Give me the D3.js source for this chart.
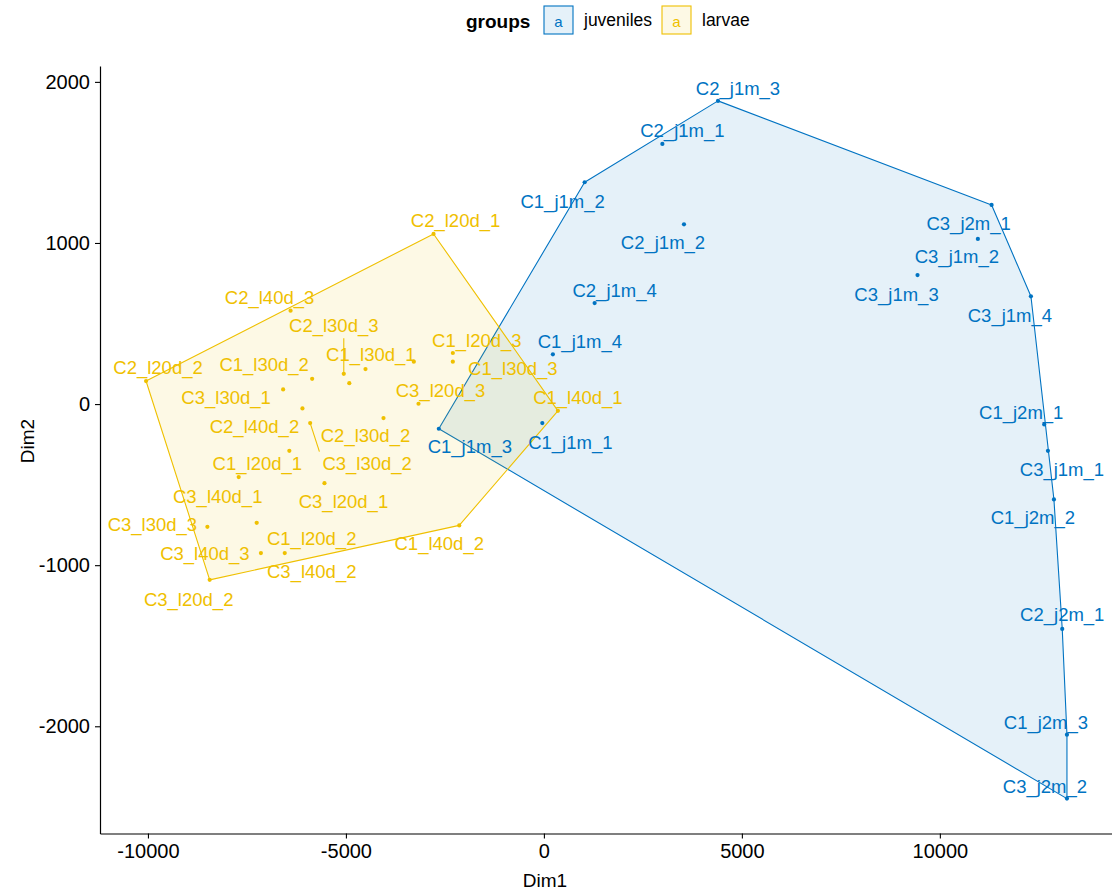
<!DOCTYPE html>
<html>
<head>
<meta charset="utf-8">
<script src="https://cdn.jsdelivr.net/npm/d3@7"></script>
<style>
  html, body { margin: 0; padding: 0; background: #ffffff; }
  svg { display: block; font-family: "Liberation Sans", Arial, sans-serif; }
</style>
</head>
<body>
<svg id="chart" width="1112" height="892"></svg>
<script>
// ---- data: MDS coordinates of samples ----
const groupNames = ["juveniles", "larvae"];
const groupColors = ["#0073C2", "#EFC000"];

const juvNames = ["C1_j1m_1", "C1_j1m_2", "C1_j1m_3", "C1_j1m_4", "C2_j1m_1", "C2_j1m_2",
  "C2_j1m_3", "C2_j1m_4", "C3_j1m_1", "C3_j1m_2", "C3_j1m_3", "C3_j1m_4",
  "C1_j2m_1", "C1_j2m_2", "C1_j2m_3", "C2_j2m_1", "C3_j2m_1", "C3_j2m_2"];
const juvDim1 = [-40, 1029, -2654, 227, 2992, 3538, 4397, 1281, 12730, 10960, 9436, 12300,
  12636, 12881, 13210, 13091, 11307, 13210];
const juvDim2 = [-118, 1377, -153, 309, 1615, 1116, 1882, 627, -290, 1025, 801, 669,
  -126, -592, -2052, -1396, 1236, -2449];

const larNames = ["C1_l20d_1", "C1_l20d_2", "C1_l20d_3", "C1_l30d_1", "C1_l30d_2", "C1_l30d_3",
  "C1_l40d_1", "C1_l40d_2", "C2_l20d_1", "C2_l20d_2", "C2_l30d_1", "C2_l30d_2", "C2_l30d_3",
  "C2_l40d_1", "C2_l40d_2", "C2_l40d_3", "C3_l20d_1", "C3_l20d_2", "C3_l20d_3", "C3_l30d_1",
  "C3_l30d_2", "C3_l30d_3", "C3_l40d_1", "C3_l40d_2", "C3_l40d_3"];
const larDim1 = [-6429, -7253, -2300, -3285, -5853, -2300, 354, -2138, -2787, -10048, -4506,
  -4051, -5054, -4915, -6098, -6398, -5542, -8441, -3167, -6586, -5903, -8499, -7708, -6545, -7147];
const larDim2 = [-290, -737, 317, 263, 157, 263, -42, -753, 1056, 143, 217, -87, 188, 130,
  -27, 580, -491, -1091, 2, 91, -118, -762, -453, -925, -925];

const xTicks = [-10000, -5000, 0, 5000, 10000];
const yTicks = [-2000, -1000, 0, 1000, 2000];

// ---- repelled label placement (pixel offsets from each point; null = label dropped) ----
const juvLabelDx = [28, -22, 31, 27, 20, -21, 20, 20, 14, -21, -21, -21, -23, -21, -21, 0, -23, -22];
const juvLabelDy = [19, 19, 18, -13, -13, 18, -12, -13, 19, 18, 19, 19, -12, 18, -12, -14, 19, -12];
const larLabelDx = [-32, 55, 24, -43, -48, 60, 20, -20, 22, 12, null, -18, -10, null, -48, -21,
  19, -21, 22, -57, 57, -55, -21, 27, -56];
const larLabelDy = [13, 16, -13, -7, -14, 7, -13, 18, -13, -14, null, 17, -48, null, 18, -13,
  18, 20, -13, 8, 40, -2, 19, 18, 0];
const larSegment = ["C2_l30d_3", "C3_l30d_2"];

// ---- layout ----
const svg = d3.select("#chart");
const panel = { left: 100, right: 1113, top: 66, bottom: 833.5 };
const fontFamily = '"Liberation Sans", Arial, sans-serif';

const groups = [
  { name: groupNames[0], color: groupColors[0], names: juvNames, d1: juvDim1, d2: juvDim2,
    dx: juvLabelDx, dy: juvLabelDy, seg: [] },
  { name: groupNames[1], color: groupColors[1], names: larNames, d1: larDim1, d2: larDim2,
    dx: larLabelDx, dy: larLabelDy, seg: larSegment }
];
groups.forEach(g => {
  g.rows = g.names.map((n, i) => ({ name: n, x: g.d1[i], y: g.d2[i], dx: g.dx[i], dy: g.dy[i],
    seg: g.seg.includes(n) }));
});
const allRows = groups.flatMap(g => g.rows);

// ggplot-style 5% expansion
function expanded(ext) {
  const pad = (ext[1] - ext[0]) * 0.05;
  return [ext[0] - pad, ext[1] + pad];
}
const x = d3.scaleLinear().domain(expanded(d3.extent(allRows, d => d.x))).range([panel.left, panel.right]);
const y = d3.scaleLinear().domain(expanded(d3.extent(allRows, d => d.y))).range([panel.bottom, panel.top]);

const fillAlpha = 0.1;
function tint(color, a) {
  const c = d3.rgb(color);
  return `rgba(${c.r},${c.g},${c.b},${a})`;
}

// ---- convex hulls ----
const hullLayer = svg.append("g");
groups.forEach(g => {
  const pts = g.rows.map(d => [x(d.x), y(d.y)]);
  const hull = d3.polygonHull(pts);
  hullLayer.append("path")
    .attr("d", "M" + hull.map(p => p.join(",")).join("L") + "Z")
    .attr("fill", tint(g.color, fillAlpha))
    .attr("stroke", g.color)
    .attr("stroke-width", 1.1)
    .attr("stroke-linejoin", "round");
});

// ---- points ----
const pointLayer = svg.append("g");
groups.forEach(g => {
  pointLayer.selectAll(null).data(g.rows).join("circle")
    .attr("cx", d => x(d.x))
    .attr("cy", d => y(d.y))
    .attr("r", 2.1)
    .attr("fill", g.color);
});

// ---- labels with optional leader segments ----
const segLayer = svg.append("g");
const labelLayer = svg.append("g");
groups.forEach(g => {
  g.rows.filter(d => d.dx !== null).forEach(d => {
    const px = x(d.x), py = y(d.y);
    const t = labelLayer.append("text")
      .attr("x", px + d.dx)
      .attr("y", py + d.dy)
      .attr("text-anchor", "middle")
      .attr("dominant-baseline", "central")
      .attr("font-size", 18.5)
      .attr("fill", g.color)
      .text(d.name);
    if (d.seg) {
      const bb = t.node().getBBox();
      const padB = 3;
      const x0 = bb.x - padB, x1 = bb.x + bb.width + padB;
      const y0 = bb.y + 2 - padB, y1 = bb.y + bb.height - 2 + padB;
      const ex = Math.max(x0, Math.min(px, x1));
      const ey = Math.max(y0, Math.min(py, y1));
      segLayer.append("line")
        .attr("x1", px).attr("y1", py)
        .attr("x2", ex).attr("y2", ey)
        .attr("stroke", g.color)
        .attr("stroke-width", 1.1);
    }
  });
});

// ---- axes ----
const xAxis = svg.append("g")
  .attr("transform", `translate(0,${panel.bottom})`)
  .call(d3.axisBottom(x).tickValues(xTicks).tickSize(5).tickPadding(5).tickSizeOuter(0).tickFormat(d3.format("d")));
const yAxis = svg.append("g")
  .attr("transform", `translate(${panel.left},0)`)
  .call(d3.axisLeft(y).tickValues(yTicks).tickSize(5).tickPadding(5).tickSizeOuter(0).tickFormat(d3.format("d")));

[xAxis, yAxis].forEach(a => {
  a.select(".domain").attr("stroke", "#000").attr("stroke-width", 1.2);
  a.selectAll(".tick line").attr("stroke", "#000").attr("stroke-width", 1.1);
  a.selectAll(".tick text")
    .attr("fill", "#000")
    .attr("font-size", 20)
    .attr("font-family", fontFamily)
    .text(d => d < 0 ? "-" + Math.abs(d) : String(d));
});

svg.append("text")
  .attr("x", (panel.left + 990) / 2)
  .attr("y", 880)
  .attr("text-anchor", "middle")
  .attr("dominant-baseline", "central")
  .attr("font-size", 19)
  .attr("fill", "#000")
  .text("Dim1");

svg.append("text")
  .attr("transform", `translate(27,441) rotate(-90)`)
  .attr("text-anchor", "middle")
  .attr("dominant-baseline", "central")
  .attr("font-size", 19)
  .attr("fill", "#000")
  .text("Dim2");

// ---- legend ----
const legend = svg.append("g");
legend.append("text")
  .attr("x", 466).attr("y", 21)
  .attr("dominant-baseline", "central")
  .attr("font-size", 19)
  .attr("font-weight", "bold")
  .attr("fill", "#000")
  .text("groups");

const keyX = [544, 662];
const keyTextX = [584, 702];
groups.forEach((g, i) => {
  legend.append("rect")
    .attr("x", keyX[i]).attr("y", 6)
    .attr("width", 29).attr("height", 28)
    .attr("fill", tint(g.color, fillAlpha))
    .attr("stroke", g.color)
    .attr("stroke-width", 1.1);
  legend.append("text")
    .attr("x", keyX[i] + 14.5).attr("y", 21)
    .attr("text-anchor", "middle")
    .attr("dominant-baseline", "central")
    .attr("font-size", 15)
    .attr("fill", g.color)
    .text("a");
  legend.append("text")
    .attr("x", keyTextX[i]).attr("y", 20)
    .attr("dominant-baseline", "central")
    .attr("font-size", 17.5)
    .attr("fill", "#000")
    .text(g.name);
});
</script>
</body>
</html>
